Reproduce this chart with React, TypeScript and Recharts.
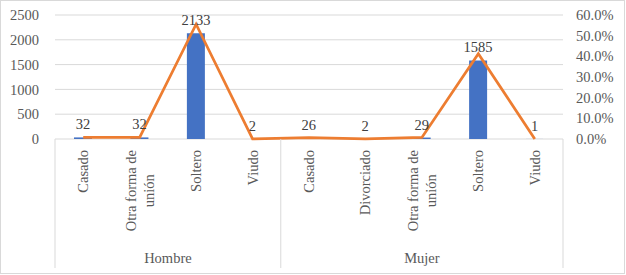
import React from 'react';
import { ComposedChart, Bar, Line, XAxis, YAxis, CartesianGrid, LabelList } from 'recharts';

const groups = ['Hombre', 'Mujer'];
const groupSizes = [4, 5];
const categories = [
  'Casado',
  'Otra forma de\nunión',
  'Soltero',
  'Viudo',
  'Casado',
  'Divorciado',
  'Otra forma de\nunión',
  'Soltero',
  'Viudo',
];
const counts = [32, 32, 2133, 2, 26, 2, 29, 1585, 1];
const percents = [0.83, 0.83, 55.52, 0.05, 0.68, 0.05, 0.75, 41.25, 0.03];
const leftTicks = [0, 500, 1000, 1500, 2000, 2500];
const rightTicks = [0, 10, 20, 30, 40, 50, 60];

const FONT = 'Liberation Serif';
const FS = 14.5;
const AXIS_COLOR = '#595959';

const groupStarts: number[] = [];
const groupOf: string[] = [];
{
  let s = 0;
  groups.forEach((g, gi) => {
    groupStarts.push(s);
    for (let k = 0; k < groupSizes[gi]; k++) groupOf.push(g);
    s += groupSizes[gi];
  });
}

const data = categories.map((c, i) => ({
  key: `${i}`,
  label: c,
  group: groupOf[i],
  count: counts[i],
  pct: percents[i],
}));

let canvasCtx: CanvasRenderingContext2D | null = null;
function measure(text: string): number {
  try {
    if (!canvasCtx) {
      const c = document.createElement('canvas');
      canvasCtx = c.getContext('2d');
    }
    if (canvasCtx) {
      canvasCtx.font = `${FS}px "Liberation Serif"`;
      return canvasCtx.measureText(text).width;
    }
  } catch (e) {
    /* ignore */
  }
  return text.length * FS * 0.45;
}

const textStyle: React.CSSProperties = { fontFamily: FONT, fontSize: FS };

const CatTick = (props: any) => {
  const { x, y, payload, index } = props;
  const i: number = typeof index === 'number' ? index : payload.index;
  const half: number = payload && typeof payload.offset === 'number' && payload.offset > 0 ? payload.offset : 28.2;
  const row = data[i];
  const lines = String(row.label).split('\n');
  const maxW = Math.max(...lines.map(measure));
  const top = y + 11;
  const cy = top + maxW / 2;
  const lineGap = 18;
  const elems: React.ReactNode[] = [];
  lines.forEach((ln, li) => {
    const cx = x + (li - (lines.length - 1) / 2) * lineGap;
    elems.push(
      <text
        key={`l${li}`}
        x={cx}
        y={cy}
        transform={`rotate(-90, ${cx}, ${cy})`}
        textAnchor="middle"
        dominantBaseline="central"
        fill={AXIS_COLOR}
        style={textStyle}
      >
        {ln}
      </text>
    );
  });
  const gi = groupStarts.indexOf(i);
  if (gi >= 0) {
    const left = x - half;
    elems.push(<line key="sep" x1={left} x2={left} y1={y} y2={y + 129} stroke="#d9d9d9" strokeWidth={1} />);
    const center = left + groupSizes[gi] * half;
    elems.push(
      <text key="grp" x={center} y={y + 124} textAnchor="middle" fill={AXIS_COLOR} style={textStyle}>
        {groups[gi]}
      </text>
    );
  }
  if (i === data.length - 1) {
    const right = x + half;
    elems.push(<line key="sepR" x1={right} x2={right} y1={y} y2={y + 129} stroke="#d9d9d9" strokeWidth={1} />);
  }
  return <g>{elems}</g>;
};

export default function App() {
  return (
    <div
      style={{
        position: 'absolute',
        left: 0,
        top: 0,
        width: 626,
        height: 275,
        background: '#fff',
        fontFamily: FONT,
      }}
    >
      <div
        style={{
          position: 'absolute',
          left: 0,
          top: 0,
          width: 625,
          height: 274,
          boxSizing: 'border-box',
          border: '1px solid #d9d9d9',
        }}
      />
      <div style={{ position: 'absolute', left: 0, top: 0 }}>
        <ComposedChart
          width={626}
          height={275}
          data={data}
          margin={{ top: 15, right: 0, left: 0, bottom: 0 }}
          style={{ fontFamily: FONT }}
        >
          <CartesianGrid vertical={false} stroke="#d9d9d9" yAxisId="left" />
          <XAxis
            dataKey="key"
            height={136}
            axisLine={false}
            tickLine={false}
            tickSize={0}
            tickMargin={0}
            interval={0}
            tick={<CatTick />}
          />
          <YAxis
            yAxisId="left"
            orientation="left"
            width={55}
            domain={[0, 2500]}
            ticks={leftTicks}
            interval={0}
            axisLine={false}
            tickLine={false}
            tickSize={0}
            tickMargin={16}
            tick={{ fill: AXIS_COLOR, style: textStyle, fontFamily: FONT, fontSize: FS }}
          />
          <YAxis
            yAxisId="right"
            orientation="right"
            width={63}
            domain={[0, 60]}
            ticks={rightTicks}
            interval={0}
            axisLine={false}
            tickLine={false}
            tickSize={0}
            tickMargin={13}
            tickFormatter={(v: number) => `${v.toFixed(1)}%`}
            tick={{ fill: AXIS_COLOR, style: textStyle, fontFamily: FONT, fontSize: FS, textAnchor: 'start' }}
          />
          <Bar yAxisId="left" dataKey="count" fill="#4472C4" barSize={18} isAnimationActive={false}>
            <LabelList
              dataKey="count"
              position="top"
              offset={8}
              fill="#404040"
              fontFamily={FONT}
              fontSize={FS}
              style={textStyle}
            />
          </Bar>
          <Line
            yAxisId="right"
            type="linear"
            dataKey="pct"
            stroke="#ED7D31"
            strokeWidth={2.75}
            dot={false}
            activeDot={false}
            isAnimationActive={false}
          />
        </ComposedChart>
      </div>
    </div>
  );
}
